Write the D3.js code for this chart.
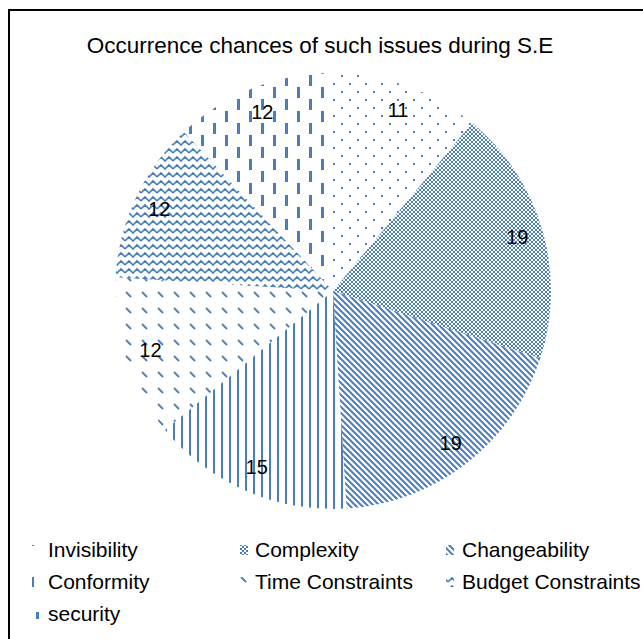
<!DOCTYPE html>
<html><head><meta charset="utf-8">
<script src="https://cdn.jsdelivr.net/npm/d3@7"></script>
<style>body{margin:0;background:#fff} svg{display:block}</style>
</head><body><svg id="c" width="643" height="639"></svg>
<script>
const categories = ["Invisibility","Complexity","Changeability","Conformity","Time Constraints","Budget Constraints","security"];
const values = [11,19,19,15,12,12,12];
const patternIds = ["p-dots","p-check","p-diag","p-vline","p-tdash","p-wave","p-vdash"];
const title = "Occurrence chances of such issues during S.E";

const W = 643, H = 639, BLUE = "#4a7ebb";
const FONT = "Liberation Sans, Arial, sans-serif";
const svg = d3.select("#c");
svg.append("rect").attr("width", W).attr("height", H).attr("fill", "#fff");
const defs = svg.append("defs");
function pat(id, w, h){ return defs.append("pattern").attr("id", id).attr("patternUnits","userSpaceOnUse").attr("width", w).attr("height", h); }
let p = pat("p-dots",16,16);
p.append("rect").attr("x",0).attr("y",0).attr("width",2).attr("height",2).attr("fill",BLUE);
p.append("rect").attr("x",8).attr("y",8).attr("width",2).attr("height",2).attr("fill",BLUE);
p = pat("p-check",4,4);
p.append("rect").attr("x",0).attr("y",0).attr("width",2).attr("height",2).attr("fill",BLUE);
p.append("rect").attr("x",2).attr("y",2).attr("width",2).attr("height",2).attr("fill",BLUE);
p = pat("p-diag",6,6);
p.append("path").attr("d","M0,0L6,6M-1,5L1,7M5,-1L7,1").attr("stroke",BLUE).attr("stroke-width",2);
p = pat("p-vline",8,8);
p.append("rect").attr("x",0).attr("y",0).attr("width",2).attr("height",8).attr("fill",BLUE);
p = pat("p-tdash",16,16);
p.append("path").attr("d","M1,1L6,6").attr("stroke",BLUE).attr("stroke-width",1.8);
p = pat("p-wave",16,8);
p.append("path").attr("d","M0,6L4,2L8,6L12,2L16,6").attr("fill","none").attr("stroke",BLUE).attr("stroke-width",1.6);
p = pat("p-vdash",24,24);
p.append("rect").attr("x",0).attr("y",0).attr("width",3).attr("height",11).attr("fill",BLUE);
p.append("rect").attr("x",12).attr("y",12).attr("width",3).attr("height",11).attr("fill",BLUE);

// border
svg.append("rect").attr("x",9).attr("y",10).attr("width",W).attr("height",H)
  .attr("fill","none").attr("stroke","#000").attr("stroke-width",2);

svg.append("text").attr("x",320).attr("y",53).attr("text-anchor","middle")
  .attr("font-family",FONT).attr("font-size",22.5).attr("fill","#000").text(title);

const cx = 333, cy = 291, R = 218;
const data = categories.map((c,i)=>({name:c, value:values[i], pid:patternIds[i]}));
const pie = d3.pie().value(d=>d.value).sort(null);
const arc = d3.arc().innerRadius(0).outerRadius(R);
const labelArc = d3.arc().innerRadius(192).outerRadius(192);
const arcs = pie(data);
svg.append("g").selectAll("path").data(arcs).join("path")
  .attr("d", d=>arc(d)).attr("transform",`translate(${cx},${cy})`)
  .attr("fill",d=>`url(#${d.data.pid})`);
svg.append("g").attr("transform",`translate(${cx},${cy})`)
  .selectAll("text").data(arcs).join("text")
  .attr("transform",d=>`translate(${labelArc.centroid(d)})`)
  .attr("text-anchor","middle").attr("dy","0.35em")
  .attr("font-family",FONT).attr("font-size",20).attr("fill","#000")
  .text(d=>d.data.value);

// legend
const colX = [31,240,446], textX = [48,255,462], rowY = [550,582,614];
const lg = svg.append("g");
data.forEach((d,i)=>{
  const c = i%3, r = Math.floor(i/3);
  lg.append("rect").attr("x",colX[c]).attr("y",rowY[r]-5).attr("width",8).attr("height",10)
    .attr("fill",`url(#${d.pid})`);
  lg.append("text").attr("x",textX[c]).attr("y",rowY[r]).attr("dy","0.35em")
    .attr("font-family",FONT).attr("font-size",21).attr("fill","#000").text(d.name);
});
</script></body></html>
